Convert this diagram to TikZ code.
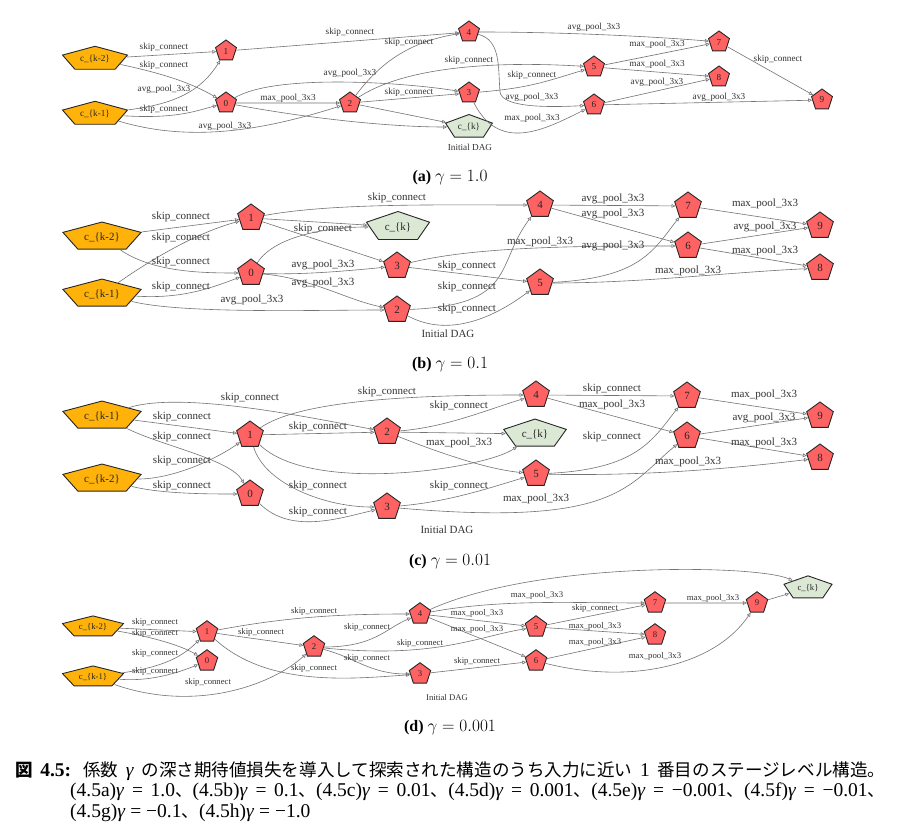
\documentclass[tikz,border=0pt]{standalone}
\usepackage{fontspec}
\setmainfont{Liberation Serif}
\newfontfamily\jp{Noto Sans CJK JP}[Scale=0.9]
\usetikzlibrary{arrows.meta,shapes.geometric}
\definecolor{opred}{RGB}{255,98,98}
\definecolor{inorange}{RGB}{255,178,10}
\definecolor{outgreen}{RGB}{218,232,212}
\tikzset{
	cell/.style={regular polygon, regular polygon sides=5, draw=black!85, line width=0.9pt, inner sep=0pt, text=black!85},
	op/.style={cell, fill=opred},
	inp/.style={cell, fill=inorange},
	outc/.style={cell, fill=outgreen},
	conn/.style={draw=black!55, line width=0.6pt, -{Triangle[open, length=4pt, width=3.6pt]}},
	lbl/.style={inner sep=0pt, text=black!80},
}
% stretched pentagon: (name)[style](xscale:x,y){text}
\def\pentnode(#1)[#2](#3:#4)#5{\node[#2, xscale=#3] (#1) at (#4) {\pgfmathparse{1/#3}\scalebox{\pgfmathresult}[1]{#5}};}

\begin{document}
\begin{tikzpicture}[x=1pt, y=-1pt]
			\path[use as bounding box, fill=white] (0,0) rectangle (902,826);
			
			%%%%% (a) %%%%%
			\begin{scope}[font=\fontsize{9.2}{11}\selectfont, op/.append style={minimum size=22pt}]
			\pentnode(ck2a)[inp, minimum size=25.4pt](2.69:95,59){c\_\{k-2\}}
			\pentnode(ck1a)[inp, minimum size=25.4pt](2.69:95,114){c\_\{k-1\}}
			\node[op] (n0a) at (226,103) {0};
			\node[op] (n1a) at (226,51) {1};
			\node[op] (n2a) at (350,103) {2};
			\node[op] (n3a) at (469,93) {3};
			\node[op] (n4a) at (469,32) {4};
			\node[op] (n5a) at (594,67) {5};
			\node[op] (n6a) at (594,105) {6};
			\node[op] (n7a) at (719,42) {7};
			\node[op] (n8a) at (719,77) {8};
			\node[op] (n9a) at (822,100) {9};
			\pentnode(cka)[outc, minimum size=25pt](1.97:469,127){c\_\{k\}}
			\node[lbl] (daga) at (470,147) {Initial DAG};
			
			\draw[conn] (ck2a) -- (n1a) node[lbl] (la1) at (164,47) {skip\_connect};
			\draw[conn] (ck2a) .. controls +(70,15) and +(-35,-20) .. (n0a) node[lbl] (la2) at (164,65) {skip\_connect};
			\draw[conn] (ck1a) .. controls +(80,-10) and +(-25,40) .. (n1a) node[lbl] (la3) at (164,89) {avg\_pool\_3x3};
			\draw[conn] (ck1a) .. controls +(80,5) and +(-30,8) .. (n0a) node[lbl] (la4) at (164,109) {skip\_connect};
			\draw[conn] (ck1a) .. controls +(100,30) and +(-80,25) .. (n2a) node[lbl] (la5) at (225,126) {avg\_pool\_3x3};
			\draw[conn] (n0a) -- (n2a) node[lbl] (la6) at (288,98) {max\_pool\_3x3};
			\draw[conn] (n0a) .. controls +(50,-30) and +(-60,-10) .. (n3a) node[lbl] (la7) at (350,73) {avg\_pool\_3x3};
			\draw[conn] (n0a) .. controls +(80,15) and +(-80,0) .. (cka);
			\draw[conn] (n1a) -- (n4a) node[lbl] (la8) at (350,32) {skip\_connect};
			\draw[conn] (n2a) .. controls +(30,-40) and +(-60,10) .. (n4a) node[lbl] (la9) at (409,42) {skip\_connect};
			\draw[conn] (n2a) .. controls +(60,-40) and +(-80,-5) .. (n5a) node[lbl] (la10) at (469,60) {skip\_connect};
			\draw[conn] (n2a) -- (n3a) node[lbl] (la11) at (409,92) {skip\_connect};
			\draw[conn] (n2a) -- (cka);
			\draw[conn] (n3a) .. controls +(60,-5) and +(-50,15) .. (n5a) node[lbl] (la12) at (532,75) {skip\_connect};
			\draw[conn] (n4a) .. controls +(32,8) and +(-2,-25) .. (500,92) .. controls +(2,14) and +(-55,3) .. (n6a) node[lbl] (la13) at (532,97) {avg\_pool\_3x3};
			\draw[conn] (n3a) .. controls +(30,60) and +(-50,25) .. (n6a) node[lbl] (la14) at (532,118) {max\_pool\_3x3};
			\draw[conn] (n4a) .. controls +(100,0) and +(-60,-5) .. (n7a) node[lbl] (la15) at (594,27) {avg\_pool\_3x3};
			\draw[conn] (n5a) -- (n7a) node[lbl] (la16) at (657,44) {max\_pool\_3x3};
			\draw[conn] (n5a) -- (n8a) node[lbl] (la17) at (657,64) {max\_pool\_3x3};
			\draw[conn] (n6a) -- (n8a) node[lbl] (la18) at (657,82) {avg\_pool\_3x3};
			\draw[conn] (n6a) -- (n9a) node[lbl] (la19) at (719,97) {avg\_pool\_3x3};
			\draw[conn] (n7a) -- (n9a) node[lbl] (la20) at (778,59) {skip\_connect};
			\end{scope}
			
			%%%%% (b) %%%%%
			\begin{scope}[font=\fontsize{11}{13}\selectfont, op/.append style={minimum size=28pt}]
			\pentnode(ck2b)[inp, minimum size=29.9pt](2.75:102,237){c\_\{k-2\}}
			\pentnode(ck1b)[inp, minimum size=29.9pt](2.75:102,294){c\_\{k-1\}}
			\node[op] (n0b) at (251,273) {0};
			\node[op] (n1b) at (251,218) {1};
			\node[op] (n2b) at (397,310) {2};
			\node[op] (n3b) at (397,266) {3};
			\node[op] (n4b) at (540,205) {4};
			\node[op] (n5b) at (540,283) {5};
			\node[op] (n6b) at (688,246) {6};
			\node[op] (n7b) at (688,206) {7};
			\node[op] (n8b) at (820,268) {8};
			\node[op] (n9b) at (820,226) {9};
			\pentnode(ckb)[outc, minimum size=31pt](2.14:398,227){c\_\{k\}}
			\node[lbl] (dagb) at (448,334) {Initial DAG};
			
			\draw[conn] (ck2b) -- (n1b) node[lbl] (lb1) at (181,217) {skip\_connect};
			\draw[conn] (ck1b) .. controls +(50,-35) and +(-55,15) .. (n1b) node[lbl] (lb2) at (181,238) {skip\_connect};
			\draw[conn] (ck2b) .. controls +(50,35) and +(-50,0) .. (n0b) node[lbl] (lb3) at (181,262) {skip\_connect};
			\draw[conn] (ck1b) .. controls +(80,5) and +(-40,15) .. (n0b) node[lbl] (lb4) at (181,287) {skip\_connect};
			\draw[conn] (ck1b) .. controls +(80,20) and +(-80,0) .. (n2b) node[lbl] (lb5) at (252,300) {avg\_pool\_3x3};
			\draw[conn] (n1b) .. controls +(80,-15) and +(-100,0) .. (n4b) node[lbl] (lb6) at (397,198) {skip\_connect};
			\draw[conn] (n1b) -- (ckb);
			\draw[conn] (n1b) -- (n3b) node[lbl] (lb7) at (323,229) {skip\_connect};
			\draw[conn] (n0b) .. controls +(25,-40) and +(-60,0) .. (ckb);
			\draw[conn] (n0b) .. controls +(50,2) and +(-50,5) .. (n3b) node[lbl] (lb8) at (323,265) {avg\_pool\_3x3};
			\draw[conn] (n0b) .. controls +(60,5) and +(-50,-10) .. (n2b) node[lbl] (lb9) at (323,283) {avg\_pool\_3x3};
			\draw[conn] (n3b) -- (n5b) node[lbl] (lb10) at (467,266) {skip\_connect};
			\draw[conn] (n3b) .. controls +(80,-20) and +(-100,0) .. (n6b) node[lbl] (lb11) at (540,242) {max\_pool\_3x3};
			\draw[conn] (n2b) .. controls +(120,-5) and +(-45,60) .. (n4b) node[lbl] (lb12) at (467,287) {skip\_connect};
			\draw[conn] (n2b) .. controls +(55,30) and +(-40,30) .. (n5b) node[lbl] (lb13) at (467,309) {skip\_connect};
			\draw[conn] (n4b) -- (n7b) node[lbl] (lb14) at (613,199) {avg\_pool\_3x3};
			\draw[conn] (n4b) -- (n6b) node[lbl] (lb15) at (613,214) {avg\_pool\_3x3};
			\draw[conn] (n5b) .. controls +(100,-5) and +(-35,45) .. (n7b) node[lbl] (lb16) at (613,246) {avg\_pool\_3x3};
			\draw[conn] (n5b) .. controls +(100,0) and +(-100,5) .. (n8b) node[lbl] (lb17) at (688,271) {max\_pool\_3x3};
			\draw[conn] (n7b) -- (n9b) node[lbl] (lb18) at (765,204) {max\_pool\_3x3};
			\draw[conn] (n6b) -- (n9b) node[lbl] (lb19) at (765,227) {avg\_pool\_3x3};
			\draw[conn] (n6b) -- (n8b) node[lbl] (lb20) at (765,251) {max\_pool\_3x3};
			\end{scope}
			
			%%%%% (c) %%%%%
			\begin{scope}[font=\fontsize{11}{13}\selectfont, op/.append style={minimum size=28pt}]
			\pentnode(ck1c)[inp, minimum size=29.9pt](2.75:102,416){c\_\{k-1\}}
			\pentnode(ck2c)[inp, minimum size=29.9pt](2.75:102,479){c\_\{k-2\}}
			\node[op] (n0c) at (250,494) {0};
			\node[op] (n1c) at (250,435) {1};
			\node[op] (n2c) at (387,432) {2};
			\node[op] (n3c) at (387,507) {3};
			\node[op] (n4c) at (536,395) {4};
			\node[op] (n5c) at (536,474) {5};
			\node[op] (n6c) at (687,436) {6};
			\node[op] (n7c) at (687,396) {7};
			\node[op] (n8c) at (820,458) {8};
			\node[op] (n9c) at (820,416) {9};
			\pentnode(ckc)[outc, minimum size=29.9pt](2.2:535,434){c\_\{k\}}
			\node[lbl] (dagc) at (447,530) {Initial DAG};
			
			\draw[conn] (ck1c) .. controls +(80,-25) and +(-80,-15) .. (n2c) node[lbl] (lc1) at (250,398) {skip\_connect};
			\draw[conn] (ck1c) -- (n1c) node[lbl] (lc2) at (182,417) {skip\_connect};
			\draw[conn] (ck1c) .. controls +(60,30) and +(-20,-35) .. (n0c) node[lbl] (lc3) at (182,437) {skip\_connect};
			\draw[conn] (ck2c) .. controls +(70,0) and +(-35,25) .. (n1c) node[lbl] (lc4) at (182,461) {skip\_connect};
			\draw[conn] (ck2c) .. controls +(60,15) and +(-40,0) .. (n0c) node[lbl] (lc5) at (182,486) {skip\_connect};
			\draw[conn] (n1c) .. controls +(50,-35) and +(-120,0) .. (n4c) node[lbl] (lc6) at (387,392) {skip\_connect};
			\draw[conn] (n1c) -- (n2c) node[lbl] (lc7) at (318,427) {skip\_connect};
			\draw[conn] (n1c) .. controls +(60,60) and +(-50,35) .. (ckc);
			\draw[conn] (n1c) .. controls +(15,50) and +(-60,0) .. (n3c) node[lbl] (lc8) at (318,486) {skip\_connect};
			\draw[conn] (n0c) .. controls +(40,40) and +(-50,12) .. (n3c) node[lbl] (lc9) at (318,512) {skip\_connect};
			\draw[conn] (n2c) .. controls +(60,-5) and +(-50,15) .. (n4c) node[lbl] (lc10) at (459,406) {skip\_connect};
			\draw[conn] (n2c) -- (ckc);
			\draw[conn] (n2c) .. controls +(50,20) and +(-50,-5) .. (n5c) node[lbl] (lc11) at (459,443) {max\_pool\_3x3};
			\draw[conn] (n3c) .. controls +(60,-5) and +(-50,15) .. (n5c) node[lbl] (lc12) at (459,486) {skip\_connect};
			\draw[conn] (n3c) .. controls +(230,20) and +(-60,50) .. (n6c) node[lbl] (lc13) at (536,499) {max\_pool\_3x3};
			\draw[conn] (n4c) -- (n7c) node[lbl] (lc14) at (612,389) {skip\_connect};
			\draw[conn] (n4c) -- (n6c) node[lbl] (lc15) at (612,405) {max\_pool\_3x3};
			\draw[conn] (n5c) .. controls +(100,-5) and +(-35,45) .. (n7c) node[lbl] (lc16) at (612,437) {skip\_connect};
			\draw[conn] (n5c) .. controls +(100,2) and +(-100,12) .. (n8c) node[lbl] (lc17) at (688,462) {max\_pool\_3x3};
			\draw[conn] (n7c) -- (n9c) node[lbl] (lc18) at (764,395) {max\_pool\_3x3};
			\draw[conn] (n6c) -- (n9c) node[lbl] (lc19) at (764,418) {avg\_pool\_3x3};
			\draw[conn] (n6c) -- (n8c) node[lbl] (lc20) at (764,443) {max\_pool\_3x3};
			\end{scope}
			
			%%%%% (d) %%%%%
			\begin{scope}[font=\fontsize{8.7}{10}\selectfont, op/.append style={minimum size=22.5pt}]
			\pentnode(ck2d)[inp, minimum size=22.1pt](2.9:93,627){c\_\{k-2\}}
			\pentnode(ck1d)[inp, minimum size=22.1pt](2.9:93,677){c\_\{k-1\}}
			\node[op] (n0d) at (207,661) {0};
			\node[op] (n1d) at (207,632) {1};
			\node[op] (n2d) at (314,647) {2};
			\node[op] (n3d) at (420,674) {3};
			\node[op] (n4d) at (420,614) {4};
			\node[op] (n5d) at (536,627) {5};
			\node[op] (n6d) at (536,661) {6};
			\node[op] (n7d) at (655,603) {7};
			\node[op] (n8d) at (655,635) {8};
			\node[op] (n9d) at (757,603) {9};
			\pentnode(ckd)[outc, minimum size=24.3pt](2.08:808,588){c\_\{k\}}
			\node[lbl] (dagd) at (447,698) {Initial DAG};
			
			\draw[conn] (ck2d) -- (n1d) node[lbl] (ld1) at (155,622) {skip\_connect};
			\draw[conn] (ck2d) .. controls +(60,10) and +(-25,-15) .. (n0d) node[lbl] (ld2) at (155,633) {skip\_connect};
			\draw[conn] (ck1d) .. controls +(70,-10) and +(-25,25) .. (n1d) node[lbl] (ld3) at (155,653) {skip\_connect};
			\draw[conn] (ck1d) .. controls +(60,5) and +(-25,10) .. (n0d) node[lbl] (ld4) at (155,671) {skip\_connect};
			\draw[conn] (ck1d) .. controls +(100,35) and +(-45,40) .. (n2d) node[lbl] (ld5) at (208,682) {skip\_connect};
			\draw[conn] (n1d) .. controls +(80,-15) and +(-80,0) .. (n4d) node[lbl] (ld6) at (314,611) {skip\_connect};
			\draw[conn] (n1d) -- (n2d) node[lbl] (ld7) at (261,632) {skip\_connect};
			\draw[conn] (n1d) .. controls +(60,55) and +(-70,5) .. (n3d) node[lbl] (ld8) at (314,668) {skip\_connect};
			\draw[conn] (n2d) .. controls +(60,0) and +(-35,15) .. (n4d) node[lbl] (ld9) at (367,627) {skip\_connect};
			\draw[conn] (n2d) .. controls +(120,12) and +(-60,10) .. (n5d) node[lbl] (ld10) at (420,643) {skip\_connect};
			\draw[conn] (n2d) .. controls +(40,10) and +(-50,0) .. (n3d) node[lbl] (ld11) at (367,658) {skip\_connect};
			\draw[conn] (n3d) -- (n6d) node[lbl] (ld12) at (477,661) {skip\_connect};
			\draw[conn] (n4d) .. controls +(120,-54) and +(-48,-23) .. (ckd);
			\draw[conn] (n4d) .. controls +(80,-15) and +(-80,0) .. (n7d) node[lbl] (ld13) at (537,595) {max\_pool\_3x3};
			\draw[conn] (n4d) -- (n5d) node[lbl] (ld14) at (477,613) {max\_pool\_3x3};
			\draw[conn] (n4d) -- (n6d) node[lbl] (ld15) at (477,629) {max\_pool\_3x3};
			\draw[conn] (n5d) -- (n7d) node[lbl] (ld16) at (595,608) {skip\_connect};
			\draw[conn] (n5d) -- (n8d) node[lbl] (ld17) at (595,626) {max\_pool\_3x3};
			\draw[conn] (n6d) -- (n8d) node[lbl] (ld18) at (595,642) {max\_pool\_3x3};
			\draw[conn] (n6d) .. controls +(100,25) and +(-40,60) .. (n9d) node[lbl] (ld19) at (655,656) {max\_pool\_3x3};
			\draw[conn] (n7d) -- (n9d) node[lbl] (ld20) at (713,598) {max\_pool\_3x3};
			\draw[conn] (n9d) -- (ckd);
			\end{scope}
			
			%%%%% captions %%%%%
			\begin{scope}[font=\fontsize{16}{18}\selectfont]
			\node (capa) at (450,178) {\textbf{(a)} $\gamma = 1.0$};
			\node (capb) at (450,365) {\textbf{(b)} $\gamma = 0.1$};
			\node (capc) at (450,562) {\textbf{(c)} $\gamma = 0.01$};
			\node (capd) at (450,728) {\textbf{(d)} $\gamma = 0.001$};
			\end{scope}
			
			\begin{scope}[font=\fontsize{19.5}{22}\selectfont]
			\node[anchor=west, inner sep=0pt] (fig1) at (15,771) {\makebox[870pt][s]{\textbf{{\jp 図} 4.5:} {\jp 係数} \textit{γ} {\jp の深さ期待値損失を導入して探索された構造のうち入力に近い} 1 {\jp 番目のステージレベル構造。}}};
			\node[anchor=west, inner sep=0pt] (fig2) at (70,792) {\makebox[815pt][s]{(4.5a)\textit{γ} = 1.0{\jp 、}(4.5b)\textit{γ} = 0.1{\jp 、}(4.5c)\textit{γ} = 0.01{\jp 、}(4.5d)\textit{γ} = 0.001{\jp 、}(4.5e)\textit{γ} = −0.001{\jp 、}(4.5f)\textit{γ} = −0.01{\jp 、}}};
			\node[anchor=west, inner sep=0pt] (fig3) at (70,813) {(4.5g)\textit{γ} = −0.1{\jp 、}(4.5h)\textit{γ} = −1.0};
			\end{scope}
\end{tikzpicture}
\end{document}
